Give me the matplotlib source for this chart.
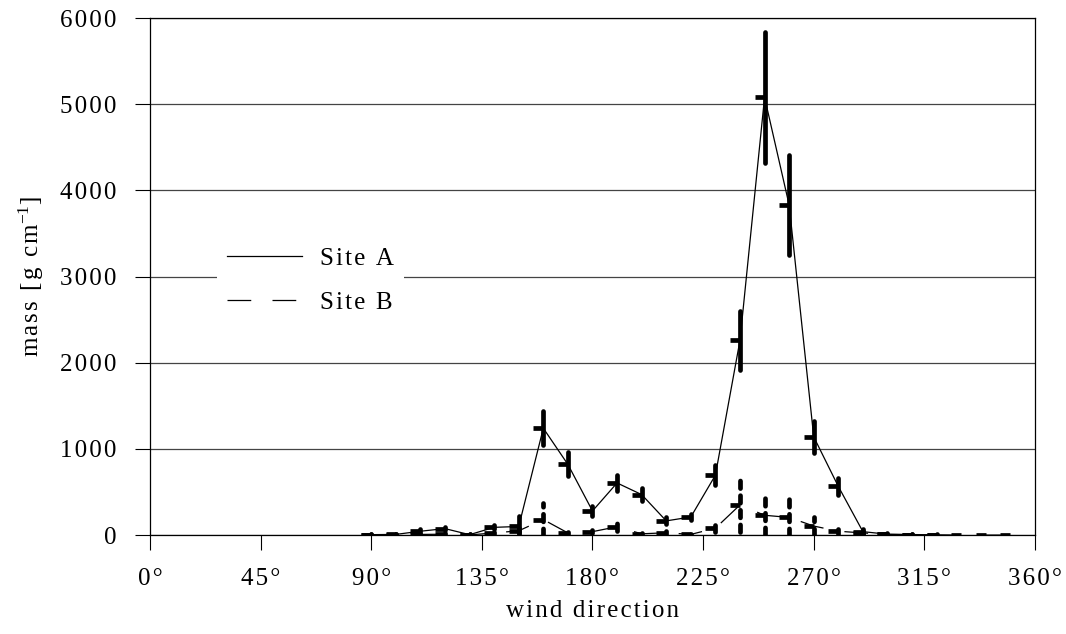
import numpy as np
import matplotlib
matplotlib.use("Agg")
import matplotlib.pyplot as plt

plt.rcParams['font.family'] = ['Liberation Serif', 'DejaVu Serif']
plt.rcParams['mathtext.fontset'] = 'stix'

# wind direction classes (degrees)
directions = [90, 100, 110, 120, 130, 140, 150, 160, 170, 180, 190, 200, 210,
              220, 230, 240, 250, 260, 270, 280, 290, 300, 310, 320, 330, 340, 350]

# mass per sector [g cm-1] and spread
site_a = [5, 8, 45, 75, 5, 90, 100, 1240, 820, 280, 605, 470, 165,
          210, 695, 2260, 5080, 3830, 1140, 565, 40, 10, 6, 4, np.nan, np.nan, np.nan]
site_a_err = [10, 10, 20, 20, 5, 25, 120, 200, 140, 55, 90, 75, 40,
              30, 116, 345, 760, 576, 188, 100, 30, 10, 8, 5, np.nan, np.nan, np.nan]

site_b = [3, 5, 8, 10, 2, 25, 50, 180, 25, 40, 97, 15, 27,
          8, 80, 350, 230, 205, 105, 45, 25, 8, 5, 3, 0, 0, 0]
site_b_err = [5, 5, 8, 10, 5, 15, 30, 190, 15, 20, 45, 10, 25,
              8, 40, 310, 225, 215, 110, 30, 20, 8, 5, 3, 0, 0, 0]

xticks = [0, 45, 90, 135, 180, 225, 270, 315, 360]
yticks = [0, 1000, 2000, 3000, 4000, 5000, 6000]


def spaced(s):
    # the original uses wide letter spacing
    return '\u200a'.join(s)


fig = plt.figure(figsize=(10.66, 6.34), dpi=100)
ax = fig.add_axes([0.1407, 0.156, 0.8302, 0.8156])

ax.plot(directions, site_a, color='k', lw=0.9, label=spaced('Site A'))
ax.plot(directions, site_b, color='k', lw=0.9, ls=(0, (19, 17)), label=spaced('Site B'))

eb = ax.errorbar(directions, site_a, yerr=site_a_err, fmt='none', ecolor='k',
                 elinewidth=3.4, zorder=3)
eb[2][0].set_capstyle('round')
eb = ax.errorbar(directions, site_b, yerr=site_b_err, fmt='none', ecolor='k',
                 elinewidth=3.4, zorder=3)
eb[2][0].set_capstyle('round')
eb[2][0].set_linestyle((0, (1.6, 1.5)))

ax.plot(directions, site_a, ls='none', marker=0, ms=7, mew=3.4, color='k', zorder=4)
ax.plot(directions, site_b, ls='none', marker=0, ms=7, mew=3.4, color='k', zorder=4)

ax.set_xlim(0, 360)
ax.set_ylim(0, 6000)
ax.set_xticks(xticks)
ax.set_xticklabels([spaced(f'{t}°') for t in xticks])
ax.set_yticks(yticks)
ax.set_yticklabels([spaced(str(t)) for t in yticks])
ax.tick_params(axis='both', direction='out', length=11, width=0.8, labelsize=18, pad=13)

ax.grid(axis='y', color='#444444', lw=0.9)
ax.set_axisbelow(True)
for side in ax.spines.values():
    side.set_linewidth(0.9)

ax.set_xlabel(spaced('wind direction'), fontsize=18, labelpad=7)
ax.set_ylabel(spaced('mass [g cm') + r'$^{\mathregular{-1}}$' + ']', fontsize=18, labelpad=10)

leg = ax.legend(loc='upper left', bbox_to_anchor=(0.062, 0.6), fontsize=18,
                frameon=True, fancybox=False, facecolor='white', edgecolor='none',
                framealpha=1, handlelength=3.0, labelspacing=0.85, handletextpad=0.7)

fig.savefig('out.png', dpi=100)
